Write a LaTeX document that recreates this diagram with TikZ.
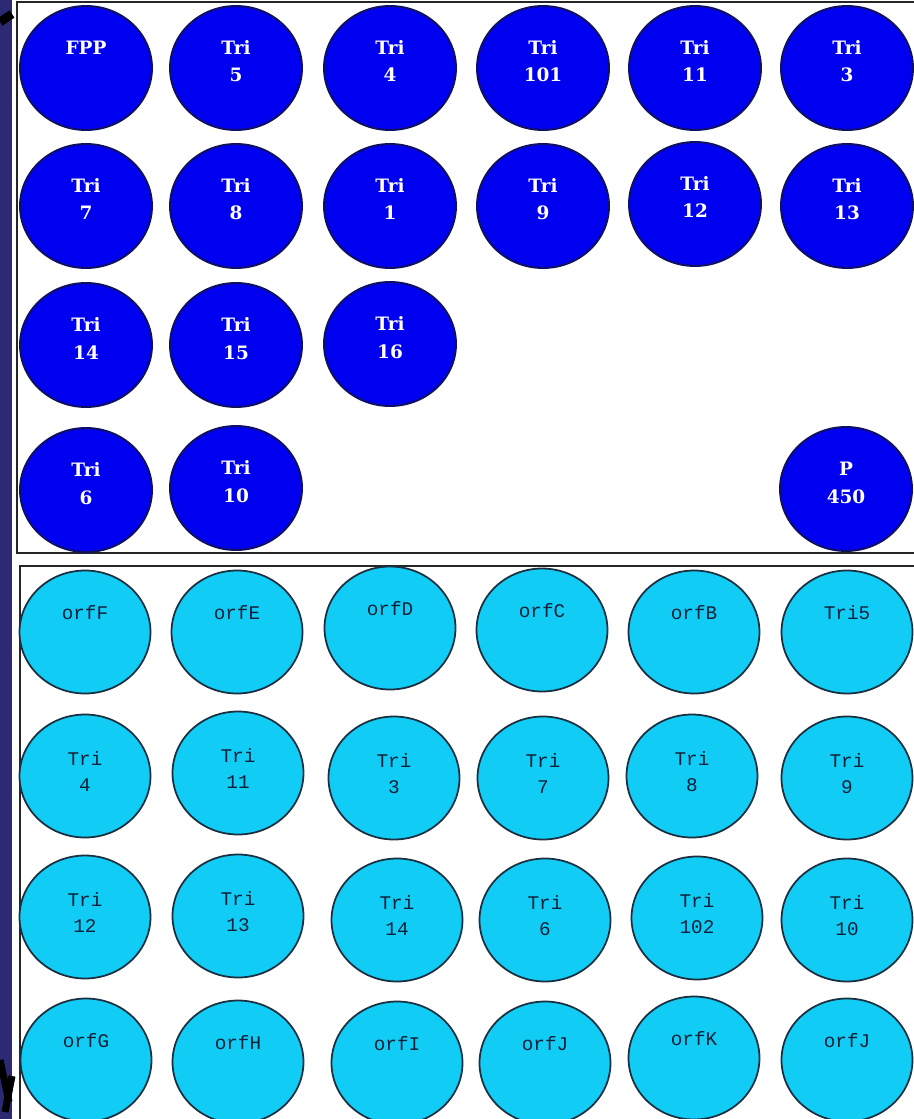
\documentclass[tikz,border=0pt]{standalone}
\usepackage{fontspec}
\usepackage{xcolor}
\definecolor{slidebg}{HTML}{2B2A72}
\definecolor{geneblue}{HTML}{0000F0}
\definecolor{geneedge}{HTML}{101060}
\definecolor{orfcyan}{HTML}{11CCF5}
\definecolor{orfedge}{HTML}{1A3040}
\definecolor{orftext}{HTML}{102038}
\newfontfamily\genefont{DejaVu Serif}
\newfontfamily\orffont{Liberation Mono}
\usetikzlibrary{shapes.geometric}

\begin{document}
\begin{tikzpicture}[x=0.02cm, y=-0.02cm,
  every node/.style={inner sep=0pt},
  genecirc/.style={ellipse, draw=geneedge, line width=1.1pt, fill=geneblue,
                   minimum width=2.64cm, minimum height=2.48cm, align=center,
                   text=white, font=\genefont\bfseries\fontsize{10.5}{15.5}\selectfont,
                   text height=0.24cm, text depth=0.80cm},
  orfcirc/.style={ellipse, draw=orfedge, line width=1pt, fill=orfcyan,
                  minimum width=2.62cm, minimum height=2.46cm, align=center,
                  text=orftext, font=\orffont\fontsize{11}{14.5}\selectfont,
                  text height=0.22cm, text depth=0.74cm},
  genetwo/.style={genecirc, text height=0.80cm, text depth=0.24cm},
  orftwo/.style={orfcirc, text height=0.78cm, text depth=0.18cm},
  panel/.style={draw=black!85, line width=1.2pt}
]
  \useasboundingbox (0,0) rectangle (913,1119);
  % slide background and the pasted figure
  \fill[slidebg] (0,0) rectangle (913,1119);
  \fill[white] (12,0) rectangle (913,1119);
  \draw[black, line width=5pt] (0,22) -- (12,14);
  \draw[black, line width=4pt] (0,1060) -- (9,1102);
  \draw[black, line width=4pt] (12,1076) -- (5,1112);

  % upper panel
  \draw[panel] (925,2) -- (17,2) -- (17,553) -- (925,553);
  \node[genecirc] (fpp)    at (86,68)  {FPP};
  \node[genetwo]  (tri5)   at (236,68) {Tri\\5};
  \node[genetwo]  (tri4)   at (390,68) {Tri\\4};
  \node[genetwo]  (tri101) at (543,68) {Tri\\101};
  \node[genetwo]  (tri11)  at (695,68) {Tri\\11};
  \node[genetwo]  (tri3)   at (847,68) {Tri\\3};

  \node[genetwo] (tri7)  at (86,206)  {Tri\\7};
  \node[genetwo] (tri8)  at (236,206) {Tri\\8};
  \node[genetwo] (tri1)  at (390,206) {Tri\\1};
  \node[genetwo] (tri9)  at (543,206) {Tri\\9};
  \node[genetwo] (tri12) at (695,204) {Tri\\12};
  \node[genetwo] (tri13) at (847,206) {Tri\\13};

  \node[genetwo] (tri14) at (86,345)  {Tri\\14};
  \node[genetwo] (tri15) at (236,345) {Tri\\15};
  \node[genetwo] (tri16) at (390,344) {Tri\\16};

  \node[genetwo] (tri6)  at (86,490)  {Tri\\6};
  \node[genetwo] (tri10) at (236,488) {Tri\\10};
  \node[genetwo] (p450)  at (846,489) {P\\450};

  % lower panel
  \draw[panel] (925,566) -- (20,566) -- (20,1130);
  \node[orfcirc] (orff)  at (85,632)  {orfF};
  \node[orfcirc] (orfe)  at (237,632) {orfE};
  \node[orfcirc] (orfd)  at (390,628) {orfD};
  \node[orfcirc] (orfc)  at (542,630) {orfC};
  \node[orfcirc] (orfb)  at (694,632) {orfB};
  \node[orfcirc] (btri5) at (847,632) {Tri5};

  \node[orftwo] (btri4)  at (85,776)  {Tri\\4};
  \node[orftwo] (btri11) at (238,773) {Tri\\11};
  \node[orftwo] (btri3)  at (394,778) {Tri\\3};
  \node[orftwo] (btri7)  at (543,778) {Tri\\7};
  \node[orftwo] (btri8)  at (692,776) {Tri\\8};
  \node[orftwo] (btri9)  at (847,778) {Tri\\9};

  \node[orftwo] (btri12)  at (85,917)  {Tri\\12};
  \node[orftwo] (btri13)  at (238,916) {Tri\\13};
  \node[orftwo] (btri14)  at (397,920) {Tri\\14};
  \node[orftwo] (btri6)   at (545,920) {Tri\\6};
  \node[orftwo] (btri102) at (697,918) {Tri\\102};
  \node[orftwo] (btri10)  at (847,920) {Tri\\10};

  \node[orfcirc] (orfg)  at (86,1060)  {orfG};
  \node[orfcirc] (orfh)  at (238,1062) {orfH};
  \node[orfcirc] (orfi)  at (397,1063) {orfI};
  \node[orfcirc] (orfj)  at (545,1063) {orfJ};
  \node[orfcirc] (orfk)  at (694,1058) {orfK};
  \node[orfcirc] (orfj2) at (847,1060) {orfJ};
\end{tikzpicture}
\end{document}
